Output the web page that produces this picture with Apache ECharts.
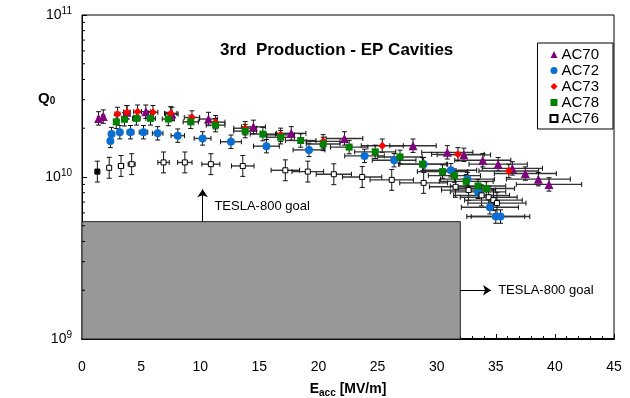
<!DOCTYPE html>
<html>
<head>
<meta charset="utf-8">
<script src="https://cdn.jsdelivr.net/npm/echarts@6/dist/echarts.min.js"></script>
<style>
  html, body { margin: 0; padding: 0; background: #fff; }
  #chart { width: 630px; height: 398px; }
</style>
</head>
<body>
<div id="chart"></div>
<script>
// measured points [Eacc, Q0]
var ac70 = [[1.4, 2.30e10], [1.8, 2.36e10], [3.8, 2.51e10], [5.4, 2.53e10], [7.6, 2.45e10],
  [10.7, 2.28e10], [14.5, 2.04e10], [17.7, 1.86e10], [22.2, 1.73e10], [28.0, 1.56e10],
  [30.9, 1.42e10], [32.3, 1.37e10], [33.9, 1.27e10], [35.2, 1.20e10], [36.4, 1.13e10],
  [37.5, 1.05e10], [38.6, 9.7e9], [39.5, 9.0e9]];
var ac72 = [[2.4, 1.67e10], [2.5, 1.84e10], [3.2, 1.89e10], [4.1, 1.89e10], [5.2, 1.89e10],
  [6.4, 1.86e10], [8.1, 1.80e10], [10.2, 1.73e10], [12.6, 1.65e10], [15.6, 1.55e10],
  [19.2, 1.47e10], [23.9, 1.35e10], [26.4, 1.27e10], [28.9, 1.20e10], [31.2, 1.10e10],
  [32.6, 9.7e9], [33.5, 8.1e9], [34.5, 6.5e9], [35.0, 5.7e9], [35.4, 5.7e9]];
var ac73 = [[3.0, 2.45e10], [3.8, 2.51e10], [4.7, 2.53e10], [6.0, 2.51e10], [7.5, 2.47e10],
  [9.3, 2.33e10], [11.3, 2.18e10], [13.8, 2.0e10], [16.8, 1.82e10], [20.4, 1.66e10],
  [25.4, 1.56e10], [31.8, 1.38e10], [36.1, 1.09e10]];
var ac78 = [[2.9, 2.19e10], [3.6, 2.27e10], [4.6, 2.30e10], [5.8, 2.30e10], [7.3, 2.28e10],
  [9.2, 2.19e10], [11.3, 2.09e10], [13.8, 1.92e10], [15.3, 1.84e10], [16.8, 1.76e10],
  [18.5, 1.68e10], [20.4, 1.60e10], [22.6, 1.53e10], [24.8, 1.43e10], [26.9, 1.33e10],
  [28.8, 1.20e10], [30.5, 1.08e10], [31.5, 1.02e10], [32.5, 9.4e9], [33.5, 8.8e9], [34.2, 8.5e9]];
var ac76 = [[1.3, 1.08e10], [2.3, 1.14e10], [3.3, 1.17e10], [4.2, 1.20e10], [6.9, 1.23e10],
  [8.7, 1.23e10], [10.9, 1.20e10], [13.6, 1.17e10], [17.2, 1.10e10], [19.1, 1.08e10],
  [21.3, 1.04e10], [23.7, 1.00e10], [26.2, 9.6e9], [28.9, 9.2e9], [31.6, 8.7e9],
  [32.7, 8.3e9], [33.8, 7.7e9], [34.4, 7.5e9], [34.8, 7.2e9], [35.1, 6.9e9]];

// relative error bars
var xErr = 0.07;
var yErr = 0.10;
var yErr76 = 0.16;

var xTicks = [0, 5, 10, 15, 20, 25, 30, 35, 40, 45];
var yDecades = [1e9, 1e10, 1e11];
var goalEacc = 32;      // TESLA-800 box
var goalQ0 = 5.3e9;

var yMinor = [];
for (var d = 0; d < yDecades.length - 1; d++) {
  for (var m = 2; m <= 9; m++) yMinor.push(yDecades[d] * m);
}

var myChart = echarts.init(document.getElementById('chart'));

function errorBars(err) {
  return function (params, api) {
    var x = api.value(0), y = api.value(1);
    var c = api.coord([x, y]);
    var l = api.coord([x * (1 - xErr), y]);
    var r = api.coord([x * (1 + xErr), y]);
    var t = api.coord([x, y * (1 + err)]);
    var b = api.coord([x, y / (1 + err)]);
    var cap = 2.5;
    var st = { stroke: '#111', lineWidth: 1 };
    return {
      type: 'group',
      children: [
        { type: 'line', shape: { x1: l[0], y1: c[1], x2: r[0], y2: c[1] }, style: { stroke: '#333', lineWidth: 1.4 } },
        { type: 'line', shape: { x1: c[0], y1: t[1], x2: c[0], y2: b[1] }, style: st },
        { type: 'line', shape: { x1: l[0], y1: c[1] - cap, x2: l[0], y2: c[1] + cap }, style: st },
        { type: 'line', shape: { x1: r[0], y1: c[1] - cap, x2: r[0], y2: c[1] + cap }, style: st },
        { type: 'line', shape: { x1: c[0] - cap, y1: t[1], x2: c[0] + cap, y2: t[1] }, style: st },
        { type: 'line', shape: { x1: c[0] - cap, y1: b[1], x2: c[0] + cap, y2: b[1] }, style: st }
      ]
    };
  };
}

function barSeries(data, err, z) {
  return {
    type: 'custom',
    data: data,
    renderItem: errorBars(err),
    encode: { x: 0, y: 1 },
    z: z,
    silent: true
  };
}

var ac76Data = ac76.map(function (p, i) {
  return i === 0 ? { value: p, itemStyle: { color: '#000' } } : p;
});

var option = {
  animation: false,
  title: {
    text: '3rd  Production - EP Cavities',
    left: 215,
    top: 37,
    textStyle: { fontFamily: 'Liberation Sans', fontSize: 17, fontWeight: 'bold', color: '#000' }
  },
  legend: {
    orient: 'vertical',
    right: 17,
    top: 43,
    data: ['AC70', 'AC72', 'AC73', 'AC78', 'AC76'],
    borderColor: '#000',
    borderWidth: 1,
    borderRadius: 0,
    padding: [4, 14, 3, 12],
    itemGap: 1,
    itemWidth: 7,
    itemHeight: 7,
    textStyle: { fontFamily: 'Liberation Sans', fontSize: 15, color: '#000', padding: [0, 0, 0, -1] }
  },
  graphic: [{
    type: 'text',
    left: 38,
    top: 91,
    style: {
      text: '{q|Q}{s|0}',
      rich: {
        q: { fontFamily: 'Liberation Sans', fontSize: 15, fontWeight: 'bold', fill: '#000' },
        s: { fontFamily: 'Liberation Sans', fontSize: 10, fontWeight: 'bold', fill: '#000', verticalAlign: 'bottom', padding: [6, 0, 0, 0] }
      }
    }
  }],
  grid: {
    left: 82, right: 16, top: 15, bottom: 59,
    outerBoundsMode: 'none', containLabel: false,
    show: true, borderColor: '#000', borderWidth: 1
  },
  xAxis: {
    type: 'value',
    min: 0,
    max: 45,
    interval: 5,
    name: '{e|E}{s|acc}{e| [MV/m]}',
    nameLocation: 'middle',
    nameGap: 42,
    nameTextStyle: {
      rich: {
        e: { fontFamily: 'Liberation Sans', fontSize: 14, fontWeight: 'bold', color: '#000' },
        s: { fontFamily: 'Liberation Sans', fontSize: 10, fontWeight: 'bold', color: '#000', padding: [7, 0, 0, 0] }
      }
    },
    axisLine: { lineStyle: { color: '#000', width: 2 } },
    axisTick: { inside: true, length: 5, lineStyle: { color: '#000' } },
    minorTick: { show: true, splitNumber: 5, length: 3, lineStyle: { color: '#000' } },
    axisLabel: {
      margin: 21,
      fontFamily: 'Liberation Sans', fontSize: 14, color: '#000',
      customValues: xTicks
    },
    splitLine: { show: false }
  },
  yAxis: {
    type: 'log',
    logBase: 10,
    min: yDecades[0],
    max: yDecades[yDecades.length - 1],
    splitNumber: 2,
    axisLine: { lineStyle: { color: '#000' } },
    axisTick: { inside: true, length: 5, lineStyle: { color: '#000' } },
    axisLabel: {
      margin: 10,
      formatter: function (v) {
        return '{b|10}{p|' + Math.round(Math.log10(v)) + '}';
      },
      rich: {
        b: { fontFamily: 'Liberation Sans', fontSize: 14, color: '#000' },
        p: { fontFamily: 'Liberation Sans', fontSize: 10, color: '#000', verticalAlign: 'top', padding: [0, 0, 8, 0] }
      }
    },
    splitLine: { show: false }
  },
  series: [
    {
      // y minor ticks
      type: 'custom',
      data: yMinor.map(function (v) { return [0, v]; }),
      encode: { x: 0, y: 1 },
      silent: true,
      z: 1,
      renderItem: function (params, api) {
        var p = api.coord([0, api.value(1)]);
        return { type: 'line', shape: { x1: p[0], y1: p[1], x2: p[0] + 3, y2: p[1] }, style: { stroke: '#000', lineWidth: 1 } };
      }
    },
    {
      type: 'scatter',
      data: [],
      silent: true,
      z: 2,
      markArea: {
        silent: true,
        itemStyle: { color: '#989898', opacity: 1, borderColor: '#222', borderWidth: 1 },
        data: [[{ coord: [0, yDecades[0]] }, { coord: [goalEacc, goalQ0] }]]
      },
      markLine: {
        silent: true,
        symbol: ['none', 'arrow'],
        symbolSize: 8,
        lineStyle: { color: '#000', width: 1, type: 'solid' },
        label: { show: false },
        data: [
          [{ coord: [10.2, goalQ0] }, { coord: [10.2, 8.4e9] }],
          [{ coord: [goalEacc, 2e9] }, { coord: [34.6, 2e9] }]
        ]
      },
      markPoint: {
        silent: true,
        symbol: 'circle',
        symbolSize: 0,
        label: {
          show: true, position: 'right', distance: 0,
          fontFamily: 'Liberation Sans', fontSize: 13, color: '#000',
          formatter: 'TESLA-800 goal'
        },
        data: [{ coord: [11.2, 6.6e9] }, { coord: [35.2, 2e9] }]
      }
    },
    barSeries(ac70, yErr, 3),
    barSeries(ac73, yErr, 3),
    barSeries(ac72, yErr, 3),
    barSeries(ac78, yErr, 3),
    barSeries(ac76, yErr76, 3),
    { name: 'AC70', type: 'scatter', data: ac70, symbol: 'triangle', symbolSize: 9, itemStyle: { color: '#800080', opacity: 1 }, z: 4 },
    { name: 'AC73', type: 'scatter', data: ac73, symbol: 'diamond', symbolSize: 8, itemStyle: { color: '#ff0000', opacity: 1 }, z: 4 },
    { name: 'AC72', type: 'scatter', data: ac72, symbol: 'circle', symbolSize: 8, itemStyle: { color: '#0a6fd0', opacity: 1 }, z: 4 },
    { name: 'AC78', type: 'scatter', data: ac78, symbol: 'rect', symbolSize: 7, itemStyle: { color: '#008000', opacity: 1 }, z: 4 },
    { name: 'AC76', type: 'scatter', data: ac76Data, symbol: 'rect', symbolSize: 5, itemStyle: { color: '#fff', borderColor: '#000', borderWidth: 1, opacity: 1 }, z: 4 }
  ]
};

myChart.setOption(option);
window.addEventListener('resize', function () {
  myChart.resize();
});
</script>
</body>
</html>
